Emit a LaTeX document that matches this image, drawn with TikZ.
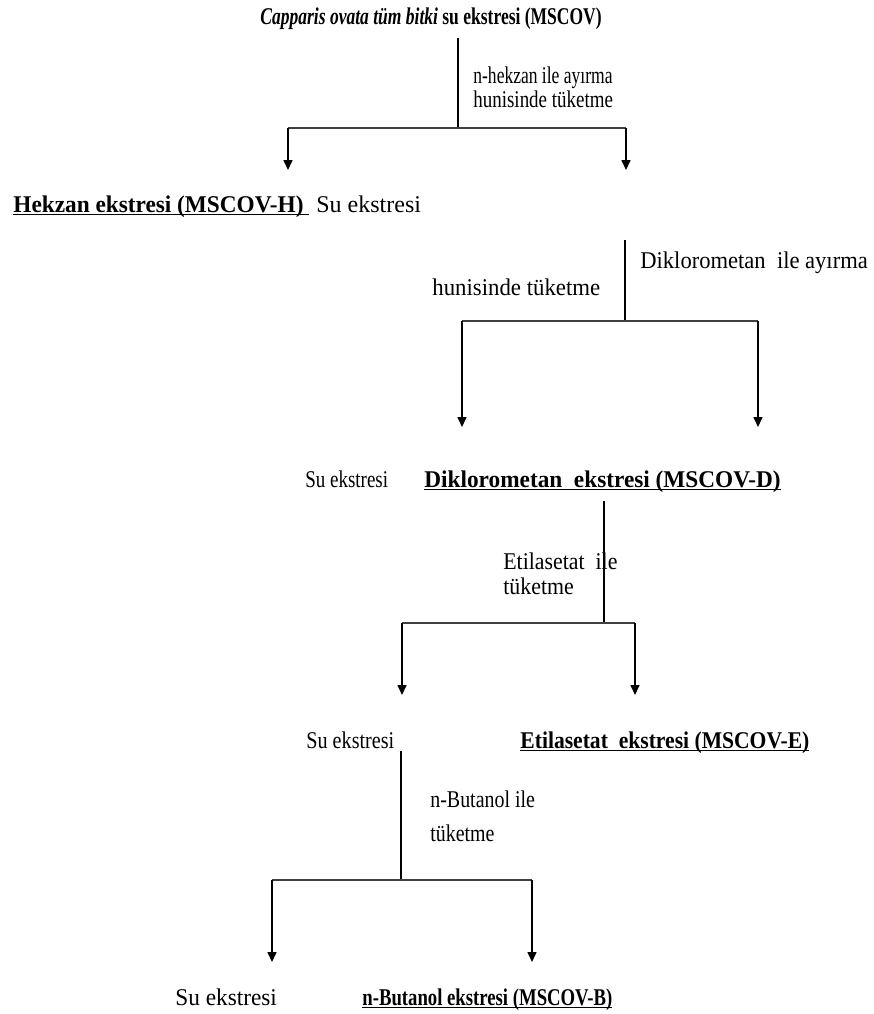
\documentclass[tikz,border=0pt]{standalone}
\usepackage{fontspec}
\setmainfont{Liberation Serif}
\usepackage{graphicx}
\usetikzlibrary{arrows.meta}

% horizontal squeeze of a text, underline close to the baseline
\newcommand{\sx}[2]{\scalebox{#1}[1]{#2}}
\newcommand{\ul}[1]{\underline{\smash{#1}}}

\begin{document}
\begin{tikzpicture}[
  x=0.5pt, y=-0.5pt,
  font=\fontsize{12pt}{14pt}\selectfont,
  txt/.style={anchor=base west, inner sep=0pt, align=left},
  stem/.style={line width=0.8pt},
  bar/.style={line width=1.1pt, black!75},
  down/.style={line width=0.8pt, -{Triangle[length=5pt,width=4.5pt]}}
]
  \useasboundingbox (0,0) rectangle (874,1014);

  % extracts
  \node[txt] (mscov) at (260,24)
    {\sx{0.73}{\textbf{\textit{Capparis ovata tüm bitki} su ekstresi (MSCOV)}}};
  \node[txt] (hekzan) at (13,212)
    {\sx{0.97}{\ul{\textbf{Hekzan ekstresi (MSCOV-H)}\ }}};
  \node[txt] (su1) at (316,212) {Su ekstresi};
  \node[txt] (su2) at (305,487) {\sx{0.79}{Su ekstresi}};
  \node[txt] (diklo) at (424,487)
    {\sx{0.97}{\ul{\textbf{Diklorometan\ \ ekstresi (MSCOV-D)}}}};
  \node[txt] (su3) at (306,748) {\sx{0.84}{Su ekstresi}};
  \node[txt] (etil) at (520,748)
    {\sx{0.90}{\ul{\textbf{Etilasetat\ \ ekstresi (MSCOV-E)}}}};
  \node[txt] (su4) at (175,1005) {\sx{0.97}{Su ekstresi}};
  \node[txt] (buta) at (362,1005)
    {\sx{0.78}{\ul{\textbf{n-Butanol ekstresi (MSCOV-B)}}}};

  % step labels (base = last line)
  \node[txt, font=\fontsize{12pt}{10.5pt}\selectfont] (lab1) at (473,107)
    {\sx{0.73}{n-hekzan ile ayırma}\\\sx{0.79}{hunisinde tüketme}};
  \node[txt] (lab2a) at (640,268) {\sx{0.94}{Diklorometan\ \ ile ayırma}};
  \node[txt] (lab2b) at (432,295) {\sx{0.95}{hunisinde tüketme}};
  \node[txt, font=\fontsize{12pt}{12.5pt}\selectfont] (lab3) at (503,594)
    {\sx{0.91}{Etilasetat\ \ ile}\\\sx{0.91}{tüketme}};
  \node[txt, font=\fontsize{12pt}{17pt}\selectfont] (lab4) at (430,841)
    {\sx{0.83}{n-Butanol ile}\\\sx{0.83}{tüketme}};

  % branch points
  \coordinate (t1) at (458,38);   \coordinate (j1) at (458,128);
  \coordinate (l1) at (288,128);  \coordinate (r1) at (626,128);
  \coordinate (al1) at (288,170); \coordinate (ar1) at (626,170);

  \coordinate (t2) at (625,240);  \coordinate (j2) at (625,321);
  \coordinate (l2) at (462,321);  \coordinate (r2) at (758,321);
  \coordinate (al2) at (462,427); \coordinate (ar2) at (758,427);

  \coordinate (t3) at (604,501);  \coordinate (j3) at (604,623);
  \coordinate (l3) at (402,623);  \coordinate (r3) at (635,623);
  \coordinate (al3) at (402,695); \coordinate (ar3) at (635,695);

  \coordinate (t4) at (401,751);  \coordinate (j4) at (401,880);
  \coordinate (l4) at (272,880);  \coordinate (r4) at (532,880);
  \coordinate (al4) at (272,962); \coordinate (ar4) at (532,962);

  \draw[stem] (t1) -- (j1);
  \draw[bar] (l1) -- (r1);
  \draw[down] (l1) -- (al1);
  \draw[down] (r1) -- (ar1);

  \draw[stem] (t2) -- (j2);
  \draw[bar] (l2) -- (r2);
  \draw[down] (l2) -- (al2);
  \draw[down] (r2) -- (ar2);

  \draw[stem] (t3) -- (j3);
  \draw[bar] (l3) -- (r3);
  \draw[down] (l3) -- (al3);
  \draw[down] (r3) -- (ar3);

  \draw[stem] (t4) -- (j4);
  \draw[bar] (l4) -- (r4);
  \draw[down] (l4) -- (al4);
  \draw[down] (r4) -- (ar4);
\end{tikzpicture}
\end{document}
